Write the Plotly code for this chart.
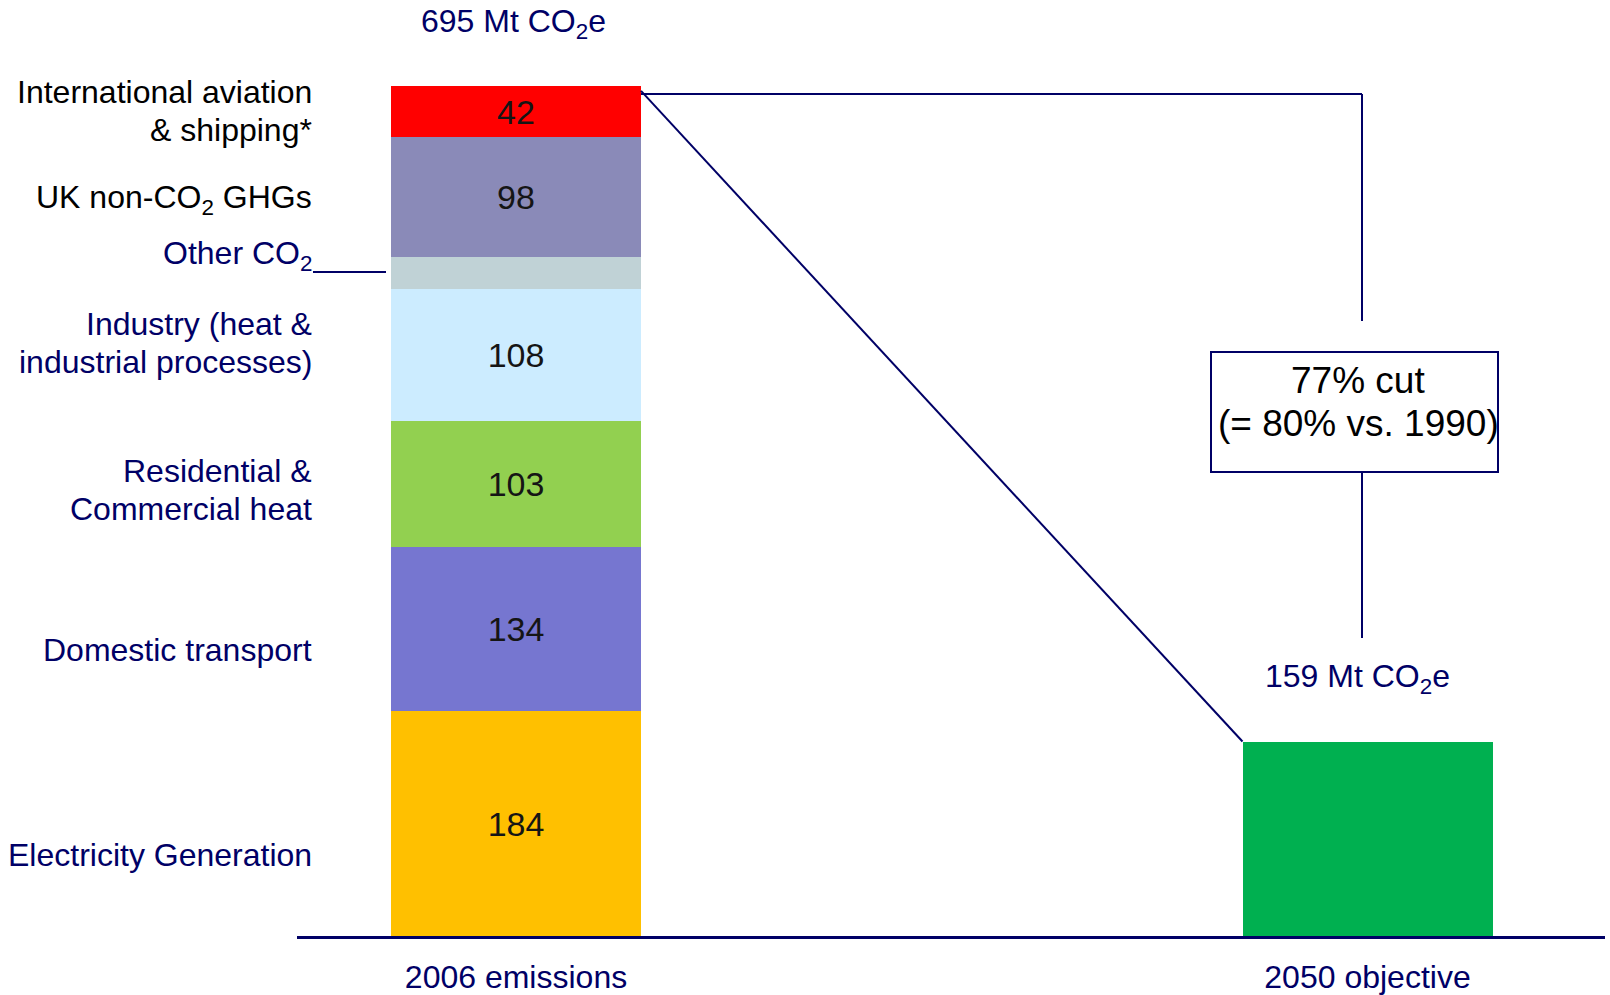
import plotly.graph_objects as go

# ---------------- data ----------------
categories = ["2006 emissions", "2050 objective"]
sectors = [
    "Electricity Generation",
    "Domestic transport",
    "Residential & Commercial heat",
    "Industry (heat & industrial processes)",
    "Other CO2",
    "UK non-CO2 GHGs",
    "International aviation & shipping*",
]
values_2006 = [184, 134, 103, 108, 26, 98, 42]
value_labels = ["184", "134", "103", "108", "", "98", "42"]
sector_colors = ["#FFC000", "#7676D0", "#92D050", "#CCECFF", "#C0D2D6", "#8A8AB8", "#FF0000"]
total_2006 = 695
target_2050 = 159
target_color = "#00B050"

# left-hand label lines (text, colour)
label_lines = [
    ("International aviation", "#000000"),
    ("& shipping*", "#000000"),
    ("UK non-CO<sub>2</sub> GHGs", "#000000"),
    ("Other CO<sub>2</sub>", "#000066"),
    ("Industry (heat &", "#000066"),
    ("industrial processes)", "#000066"),
    ("Residential &", "#000066"),
    ("Commercial heat", "#000066"),
    ("Domestic transport", "#000066"),
    ("Electricity Generation", "#000066"),
]
label_py = [92, 130, 199, 255, 324, 362, 471, 509, 650, 855]

# ---------------- geometry ----------------
W, H = 1610, 995
ML, MR, MT, MB = 297, 5, 0, 59
PLOT_H = H - MT - MB
PX_PER_MT = 850 / 695
Y_TOP = PLOT_H / PX_PER_MT
X0_PX, X1_PX = 516, 1367.5
PX_PER_CAT = X1_PX - X0_PX
BAR_W = 250 / PX_PER_CAT
NAVY = "#000066"
FONT = "Liberation Sans, Arial, sans-serif"


def ydat(py):
    return (H - MB - py) / PX_PER_MT


def xdat(px):
    return (px - X0_PX) / PX_PER_CAT


fig = go.Figure()

for name, val, lab, col in zip(sectors, values_2006, value_labels, sector_colors):
    fig.add_trace(go.Bar(
        x=[categories[0]], y=[val], name=name, width=BAR_W,
        marker=dict(color=col, line=dict(width=0)),
        text=[lab], textposition="inside", insidetextanchor="middle",
        textangle=0, constraintext="none",
        textfont=dict(size=34, color="#151515", family=FONT),
        showlegend=False,
    ))

fig.add_trace(go.Bar(
    x=[categories[1]], y=[target_2050], name="2050 objective", width=BAR_W,
    marker=dict(color=target_color, line=dict(width=0)), showlegend=False,
))

annotations = []
for (txt, col), py in zip(label_lines, label_py):
    annotations.append(dict(
        x=xdat(314), y=ydat(py), xref="x", yref="y", text=txt, showarrow=False,
        xanchor="right", yanchor="middle", font=dict(size=32, color=col, family=FONT),
    ))

annotations.append(dict(
    x=xdat(513), y=ydat(23), xref="x", yref="y",
    text=f"{total_2006} Mt CO<sub>2</sub>e", showarrow=False,
    xanchor="center", yanchor="middle", font=dict(size=32, color=NAVY, family=FONT),
))
annotations.append(dict(
    x=xdat(1357), y=ydat(678), xref="x", yref="y",
    text=f"{target_2050} Mt CO<sub>2</sub>e", showarrow=False,
    xanchor="center", yanchor="middle", font=dict(size=32, color=NAVY, family=FONT),
))
cut_pct = round((1 - target_2050 / total_2006) * 100)
for txt, py in [(f"{cut_pct}% cut", 380), ("(= 80% vs. 1990)", 423)]:
    annotations.append(dict(
        x=xdat(1358), y=ydat(py), xref="x", yref="y", text=txt, showarrow=False,
        xanchor="center", yanchor="middle", font=dict(size=37, color="#000000", family=FONT),
    ))

line_style = dict(color=NAVY, width=2)
shapes = [
    # diagonal from top of 2006 bar to top of 2050 bar
    dict(type="line", xref="x", yref="y", x0=0 + BAR_W / 2, y0=total_2006 - 4,
         x1=1 - BAR_W / 2, y1=target_2050, line=line_style),
    # horizontal bracket
    dict(type="line", xref="x", yref="y", x0=0 + BAR_W / 2, y0=ydat(94),
         x1=xdat(1362), y1=ydat(94), line=line_style),
    dict(type="line", xref="x", yref="y", x0=xdat(1362), y0=ydat(94),
         x1=xdat(1362), y1=ydat(321), line=line_style),
    dict(type="line", xref="x", yref="y", x0=xdat(1362), y0=ydat(472),
         x1=xdat(1362), y1=ydat(638), line=line_style),
    # box
    dict(type="rect", xref="x", yref="y", x0=xdat(1211), x1=xdat(1498),
         y0=ydat(472), y1=ydat(352), fillcolor="white", line=line_style, layer="above"),
    # Other CO2 leader
    dict(type="line", xref="x", yref="y", x0=xdat(313), x1=xdat(386),
         y0=ydat(272), y1=ydat(272), line=line_style),
]

fig.update_layout(
    width=W, height=H, barmode="stack", bargap=0,
    margin=dict(l=ML, r=MR, t=MT, b=MB, pad=0, autoexpand=False),
    paper_bgcolor="white", plot_bgcolor="white",
    annotations=annotations, shapes=shapes,
    xaxis=dict(
        type="category", categoryorder="array", categoryarray=categories,
        range=[xdat(ML), xdat(W - MR)], showgrid=False, zeroline=False,
        showline=True, linecolor=NAVY, linewidth=3, ticks="",
        tickfont=dict(size=32, color=NAVY, family=FONT), ticklabelstandoff=11,
        layer="above traces", automargin=False,
    ),
    yaxis=dict(range=[0, Y_TOP], visible=False, showgrid=False, zeroline=False,
               automargin=False),
    font=dict(family=FONT),
)

fig.write_html("out.html")
